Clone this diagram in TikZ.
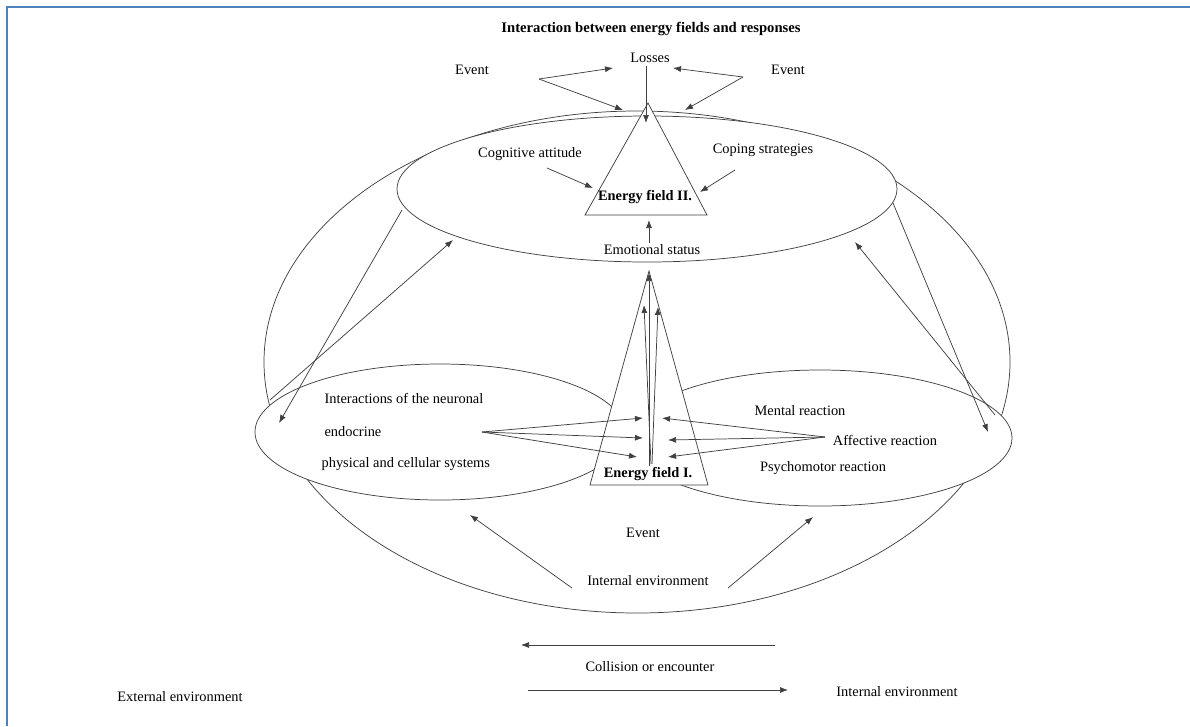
\documentclass[tikz,border=0pt]{standalone}
\usepackage{fontspec}
\setmainfont{Liberation Serif}
\usetikzlibrary{arrows.meta}
\definecolor{framecol}{RGB}{79,129,189}
\begin{document}
\begin{tikzpicture}[x=0.75pt,y=-0.75pt,
 ln/.style={draw=black!75, line width=0.55pt},
 arr/.style={ln,-{Latex[length=6pt,width=4.5pt]}},
 lbl/.style={font=\fontsize{10.8}{13}\selectfont, inner sep=1pt},
 ttl/.style={inner sep=1pt, font=\fontsize{11}{13}\selectfont\bfseries},
 ttlsmall/.style={inner sep=1pt, font=\fontsize{10.8}{13}\selectfont\bfseries},
 frameline/.style={draw=framecol, line width=2pt}]
\useasboundingbox (0,0) rectangle (1190,726);
\draw[frameline] (7,726) -- (7,7) -- (1190,7);

% shapes
\draw[ln, fill=white] (637,362) ellipse [x radius=373, y radius=251];
\draw[ln, fill=white] (647,189) ellipse [x radius=250, y radius=73];
\draw[ln, fill=white] (440,432) ellipse [x radius=185, y radius=68];
\draw[ln, fill=white] (820,438) ellipse [x radius=192, y radius=68];
\draw[ln, fill=white] (648,103) -- (707,215) -- (585,215) -- cycle;
\draw[ln, fill=white] (649,271) -- (708,485) -- (590,485) -- cycle;

% texts
\node[ttl] (title) at (651,29) {Interaction between energy fields and responses};
\node[lbl] (losses) at (650,58) {Losses};
\node[lbl] (evL) at (472,70) {Event};
\node[lbl] (evR) at (788,70) {Event};
\node[lbl] (cog) at (530,154) {Cognitive attitude};
\node[lbl] (cope) at (763,150) {Coping strategies};
\node[ttlsmall] (ef2) at (645,197) {Energy field II.};
\node[lbl] (emo) at (652,250) {Emotional status};
\node[lbl, anchor=west] (n1) at (323,398) {Interactions of the neuronal};
\node[lbl, anchor=west] (n2) at (323,432) {endocrine};
\node[lbl, anchor=west] (n3) at (320,464) {physical and cellular systems};
\node[ttlsmall] (ef1) at (648,474) {Energy field I.};
\node[lbl] (mental) at (800,411) {Mental reaction};
\node[lbl] (aff) at (885,440) {Affective reaction};
\node[lbl] (psy) at (823,468) {Psychomotor reaction};
\node[lbl] (evB) at (643,533) {Event};
\node[lbl] (ienv) at (648,581) {Internal environment};
\node[lbl] (coll) at (650,667) {Collision or encounter};
\node[lbl] (ext) at (180,697) {External environment};
\node[lbl] (int2) at (897,692) {Internal environment};

% coordinates
\coordinate (eLf) at (539,79);
\coordinate (eRf) at (743,77);
\coordinate (losL) at (613,68);
\coordinate (losR) at (673,68);
\coordinate (apL) at (623,110);
\coordinate (apR) at (685,110);
\coordinate (losS) at (646,66);
\coordinate (losT) at (646,123);
\coordinate (cogS) at (547,168);
\coordinate (cogT) at (593,188);
\coordinate (copS) at (735,170);
\coordinate (copT) at (700,192);
\coordinate (emoS) at (649,243);
\coordinate (emoT) at (649,220);
\coordinate (tlS) at (402,210);
\coordinate (tlT) at (279,423);
\coordinate (blS) at (270,400);
\coordinate (blT) at (453,240);
\coordinate (trS) at (893,203);
\coordinate (trT) at (988,432);
\coordinate (brS) at (995,415);
\coordinate (brT) at (855,242);
\coordinate (vb1) at (649,466);
\coordinate (vb2) at (651,464);
\coordinate (vb3) at (652,464);
\coordinate (vt1) at (649,273);
\coordinate (vt2) at (644,305);
\coordinate (vt3) at (658,307);
\coordinate (endS) at (482,432);
\coordinate (lt1) at (643,418);
\coordinate (lt2) at (643,438);
\coordinate (lt3) at (637,457);
\coordinate (affS) at (825,437);
\coordinate (rt1) at (662,418);
\coordinate (rt2) at (668,440);
\coordinate (rt3) at (668,457);
\coordinate (ieL) at (572,588);
\coordinate (ieLT) at (470,515);
\coordinate (ieR) at (728,588);
\coordinate (ieRT) at (813,517);
\coordinate (c1S) at (775,645);
\coordinate (c1T) at (521,645);
\coordinate (c2S) at (528,690);
\coordinate (c2T) at (788,690);

% arrows
\draw[arr] (eLf) -- (losL);
\draw[arr] (eLf) -- (apL);
\draw[arr] (eRf) -- (losR);
\draw[arr] (eRf) -- (apR);
\draw[arr] (losS) -- (losT);
\draw[arr] (cogS) -- (cogT);
\draw[arr] (copS) -- (copT);
\draw[arr] (emoS) -- (emoT);
\draw[arr] (tlS) -- (tlT);
\draw[arr] (blS) -- (blT);
\draw[arr] (trS) -- (trT);
\draw[arr] (brS) -- (brT);
\draw[arr] (vb1) -- (vt1);
\draw[arr] (vb2) -- (vt2);
\draw[arr] (vb3) -- (vt3);
\draw[arr] (endS) -- (lt1);
\draw[arr] (endS) -- (lt2);
\draw[arr] (endS) -- (lt3);
\draw[arr] (affS) -- (rt1);
\draw[arr] (affS) -- (rt2);
\draw[arr] (affS) -- (rt3);
\draw[arr] (ieL) -- (ieLT);
\draw[arr] (ieR) -- (ieRT);
\draw[arr] (c1S) -- (c1T);
\draw[arr] (c2S) -- (c2T);
\end{tikzpicture}
\end{document}
